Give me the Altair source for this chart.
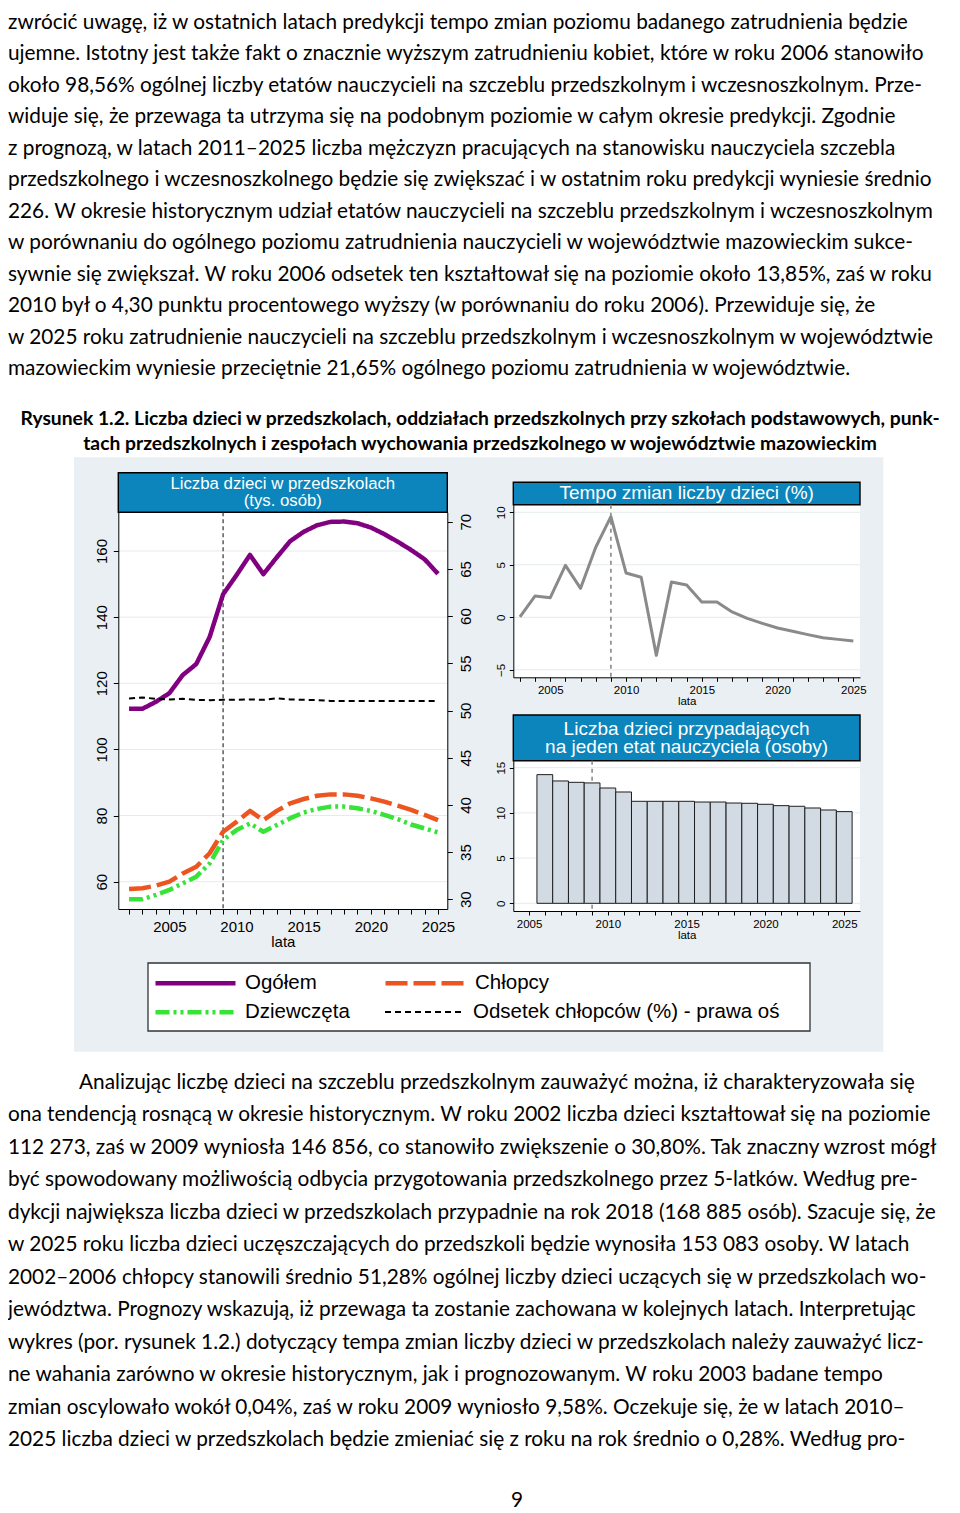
import altair as alt
import pandas as pd

# ---------------------------------------------------------------- data
years = list(range(2002, 2026))
ogolem = [112.3, 112.3, 114.4, 117.0, 122.5, 125.8, 134.0, 146.9, 152.7, 158.8, 153.0, 158.1,
          163.0, 165.8, 167.8, 168.8, 168.9, 168.4, 167.1, 165.1, 162.8, 160.3, 157.5, 153.1]
chlopcy = [57.8, 58.0, 58.8, 60.0, 62.5, 64.5, 68.6, 75.1, 78.1, 81.4, 78.6, 81.4,
           83.7, 85.0, 86.0, 86.4, 86.4, 86.0, 85.2, 84.2, 83.0, 81.7, 80.2, 78.6]
dziewczeta = [54.7, 54.7, 56.0, 57.5, 59.5, 61.5, 65.5, 72.6, 75.6, 77.6, 75.1, 77.1,
              79.2, 80.9, 82.0, 82.7, 82.7, 82.2, 81.4, 80.2, 78.9, 77.3, 76.1, 74.9]
odsetek = [51.27, 51.38, 51.24, 51.17, 51.24, 51.13, 51.10, 51.13, 51.13, 51.17, 51.13, 51.30,
           51.17, 51.13, 51.10, 51.02, 51.02, 51.02, 51.02, 51.02, 51.02, 51.02, 51.02, 51.02]

tempo_years = list(range(2003, 2026))
tempo = [0.04, 2.03, 1.87, 4.95, 2.76, 6.67, 9.58, 4.22, 3.81, -3.62, 3.37, 3.08,
         1.46, 1.46, 0.51, -0.10, -0.57, -1.02, -1.33, -1.65, -1.94, -2.10, -2.25]

ratio_years = list(range(2006, 2026))
ratio = [14.23, 13.53, 13.38, 13.31, 12.75, 12.31, 11.28, 11.28, 11.28, 11.28,
         11.20, 11.20, 11.09, 11.06, 10.95, 10.80, 10.73, 10.54, 10.32, 10.14]

forecast_start = 2009

series_names = ["Ogółem", "Chłopcy", "Dziewczęta", "Odsetek chłopców (%) - prawa oś"]

ticks_p1_left = [60, 80, 100, 120, 140, 160]
ticks_p1_right = [30, 35, 40, 45, 50, 55, 60, 65, 70]
ticks_tempo = [-5, 0, 5, 10]
ticks_ratio = [0, 5, 10, 15]

title_p1 = ["Liczba dzieci w przedszkolach", "(tys. osób)"]
title_p2 = ["Tempo zmian liczby dzieci (%)"]
title_p3 = ["Liczba dzieci przypadających", "na jeden etat nauczyciela (osoby)"]
axis_title = "lata"

text_top = [
    "zwrócić uwagę, iż w ostatnich latach predykcji tempo zmian poziomu badanego zatrudnienia będzie",
    "ujemne. Istotny jest także fakt o znacznie wyższym zatrudnieniu kobiet, które w roku 2006 stanowiło",
    "około 98,56% ogólnej liczby etatów nauczycieli na szczeblu przedszkolnym i wczesnoszkolnym. Prze-",
    "widuje się, że przewaga ta utrzyma się na podobnym poziomie w całym okresie predykcji. Zgodnie",
    "z prognozą, w latach 2011–2025 liczba mężczyzn pracujących na stanowisku nauczyciela szczebla",
    "przedszkolnego i wczesnoszkolnego będzie się zwiększać i w ostatnim roku predykcji wyniesie średnio",
    "226. W okresie historycznym udział etatów nauczycieli na szczeblu przedszkolnym i wczesnoszkolnym",
    "w porównaniu do ogólnego poziomu zatrudnienia nauczycieli w województwie mazowieckim sukce-",
    "sywnie się zwiększał. W roku 2006 odsetek ten kształtował się na poziomie około 13,85%, zaś w roku",
    "2010 był o 4,30 punktu procentowego wyższy (w porównaniu do roku 2006). Przewiduje się, że",
    "w 2025 roku zatrudnienie nauczycieli na szczeblu przedszkolnym i wczesnoszkolnym w województwie",
    "mazowieckim wyniesie przeciętnie 21,65% ogólnego poziomu zatrudnienia w województwie.",
]
caption = [
    "Rysunek 1.2. Liczba dzieci w przedszkolach, oddziałach przedszkolnych przy szkołach podstawowych, punk-",
    "tach przedszkolnych i zespołach wychowania przedszkolnego w województwie mazowieckim",
]
text_bottom = [
    "Analizując liczbę dzieci na szczeblu przedszkolnym zauważyć można, iż charakteryzowała się",
    "ona tendencją rosnącą w okresie historycznym. W roku 2002 liczba dzieci kształtował się na poziomie",
    "112 273, zaś w 2009 wyniosła 146 856, co stanowiło zwiększenie o 30,80%. Tak znaczny wzrost mógł",
    "być spowodowany możliwością odbycia przygotowania przedszkolnego przez 5-latków. Według pre-",
    "dykcji największa liczba dzieci w przedszkolach przypadnie na rok 2018 (168 885 osób). Szacuje się, że",
    "w 2025 roku liczba dzieci uczęszczających do przedszkoli będzie wynosiła 153 083 osoby. W latach",
    "2002–2006 chłopcy stanowili średnio 51,28% ogólnej liczby dzieci uczących się w przedszkolach wo-",
    "jewództwa. Prognozy wskazują, iż przewaga ta zostanie zachowana w kolejnych latach. Interpretując",
    "wykres (por. rysunek 1.2.) dotyczący tempa zmian liczby dzieci w przedszkolach należy zauważyć licz-",
    "ne wahania zarówno w okresie historycznym, jak i prognozowanym. W roku 2003 badane tempo",
    "zmian oscylowało wokół 0,04%, zaś w roku 2009 wyniosło 9,58%. Oczekuje się, że w latach 2010–",
    "2025 liczba dzieci w przedszkolach będzie zmieniać się z roku na rok średnio o 0,28%. Według pro-",
]
page_number = ["9"]

# ---------------------------------------------------------------- styles / layout
W, H = 944, 1505
MARGIN = 8


def px(v):
    """page pixel -> chart pixel (the page has an 8px body margin)"""
    return v - MARGIN


BODY_FONT = "Lato"
AX_FONT = "Liberation Sans"
BODY_SIZE = 20.8
FIG_BG = "#e9eff2"
TITLE_BLUE = "#0b85bb"
GRID = "#e4ebee"
BAR_FILL = "#d2dbe3"

series_colors = ["#800080", "#ec5520", "#36e336", "#000000"]
series_dash = [[1, 0], [22, 6], [14, 4, 3, 4, 3, 4], [6, 4]]
series_width = [4.5, 4.5, 4.5, 2]
# legend entry anchors (page px): start of the sample line, centre of the row
legend_pos = [(153, 983), (383, 983), (153, 1012), (384, 1012)]

# panel geometry (page pixels)
P1 = dict(x0=118.3, x1=447.3, y0=512.3, y1=909, bar0=472.7)
P2 = dict(x0=513.3, x1=860, y0=504.7, y1=677.3, bar0=482.3)
P3 = dict(x0=513.3, x1=860, y0=760.7, y1=911, bar0=715)

X1 = alt.Scale(domain=[2001.2, 2025.69], range=[px(P1["x0"]), px(P1["x1"])], nice=False, zero=False)
Y1L = alt.Scale(domain=[51.74, 171.7], range=[px(P1["y1"]), px(P1["y0"])], nice=False, zero=False)
Y1R = alt.Scale(domain=[28.97, 71.0], range=[px(P1["y1"]), px(P1["y0"])], nice=False, zero=False)
X2 = alt.Scale(domain=[2002.56, 2025.44], range=[px(P2["x0"]), px(P2["x1"])], nice=False, zero=False)
Y2 = alt.Scale(domain=[-5.71, 10.72], range=[px(P2["y1"]), px(P2["y0"])], nice=False, zero=False)
X3 = alt.Scale(domain=[2004, 2026], range=[px(P3["x0"]), px(P3["x1"])], nice=False, zero=False)
Y3 = alt.Scale(domain=[-0.85, 15.77], range=[px(P3["y1"]), px(P3["y0"])], nice=False, zero=False)

FIVE = "datum.value % 5 == 0 ? datum.value : ''"


def x_axis(bottom, values, size, tick, pad):
    return alt.Axis(orient="bottom", offset=px(bottom) - H, values=values, labelExpr=FIVE,
                    labelFontSize=size, labelFont=AX_FONT, labelColor="black", labelAngle=0,
                    labelOverlap=False, labelFlush=False, tickSize=tick, labelPadding=pad,
                    title=axis_title, titleFont=AX_FONT, titleFontSize=size,
                    titleFontWeight="normal", titleColor="black", titlePadding=0,
                    grid=False, domainColor="black", tickColor="black", zindex=1)


def y_axis(orient, xpos, values, size, tick, pad):
    off = -px(xpos) if orient == "left" else px(xpos) - W
    return alt.Axis(orient=orient, offset=off, values=values, labelAngle=270,
                    labelAlign="center", labelBaseline="bottom" if orient == "left" else "top",
                    labelFontSize=size, labelFont=AX_FONT, labelColor="black",
                    labelOverlap=False, labelFlush=False, tickSize=tick, labelPadding=pad,
                    title=None, grid=False, domainColor="black", tickColor="black", zindex=1)


ONE = alt.Data(values=[{}])


def deco_rect(x0, x1, y0, y1, fill, stroke=None, sw=1.0):
    kw = dict(fill=fill)
    if stroke:
        kw.update(stroke=stroke, strokeWidth=sw)
    return alt.Chart(ONE).mark_rect(**kw).encode(
        x=alt.value(px(x0)), x2=alt.value(px(x1)), y=alt.value(px(y0)), y2=alt.value(px(y1)))


def title_text(lines, cx, first_y, size, lh):
    return alt.Chart(pd.DataFrame({"t": ["\n".join(lines)]})).mark_text(
        align="center", baseline="middle", color="white", font=AX_FONT, fontSize=size,
        lineBreak="\n", lineHeight=lh).encode(text="t:N", x=alt.value(px(cx)), y=alt.value(px(first_y)))


def grid(values, scale, x0, x1):
    return alt.Chart(pd.DataFrame({"v": values})).mark_rule(color=GRID, strokeWidth=1).encode(
        y=alt.Y("v:Q", scale=scale, axis=None), x=alt.value(px(x0)), x2=alt.value(px(x1)))


def forecast_rule(xscale, y0, y1, color, dash, width):
    return alt.Chart(pd.DataFrame({"rok": [forecast_start]})).mark_rule(
        color=color, strokeDash=dash, strokeWidth=width).encode(
        x=alt.X("rok:Q", scale=xscale, axis=None), y=alt.value(px(y0)), y2=alt.value(px(y1)))


def text_block(lines, first_y, last_y, x, size, weight="normal", align="left", rows=None):
    df = pd.DataFrame({"row": list(range(len(lines))), "line": lines})
    if rows is not None:
        df = df[df["row"].isin(rows)]
    n = max(len(lines) - 1, 1)
    return alt.Chart(df).mark_text(align=align, baseline="middle", font=BODY_FONT, fontSize=size,
                                   fontWeight=weight, color="black").encode(
        text="line:N", x=alt.value(px(x)),
        y=alt.Y("row:Q", scale=alt.Scale(domain=[0, n], range=[px(first_y), px(last_y)],
                                         nice=False, zero=False), axis=None))


def series_layer(i, values, yscale, xaxis=None, yaxis=None):
    name, color, dash, width = series_names[i], series_colors[i], series_dash[i], series_width[i]
    lx, ly = legend_pos[i]
    box = 80 + width
    leg = alt.Legend(orient="none", legendX=px(lx), legendY=px(ly) - box / 2, title=None,
                     symbolType="stroke", symbolSize=6400, symbolStrokeWidth=width,
                     labelFontSize=20.5, labelFont=AX_FONT, labelColor="black",
                     labelOffset=7, labelLimit=500, padding=0)
    df = pd.DataFrame({"rok": years, "wartosc": values, "seria": name})
    return alt.Chart(df).mark_line(strokeWidth=width, strokeCap="butt", strokeJoin="round").encode(
        x=alt.X("rok:Q", scale=X1, axis=xaxis),
        y=alt.Y("wartosc:Q", scale=yscale, axis=yaxis),
        color=alt.Color("seria:N", scale=alt.Scale(domain=[name], range=[color]), legend=leg),
        strokeDash=alt.StrokeDash("seria:N", scale=alt.Scale(domain=[name], range=[dash]), legend=leg))


df_tempo = pd.DataFrame({"rok": tempo_years, "tempo": tempo})
df_ratio = pd.DataFrame({"rok": ratio_years, "osoby": ratio})

# ---------------------------------------------------------------- layers
layers = []
# figure background, legend box, plot areas, title bars
layers.append(deco_rect(74, 883.3, 457.3, 1051.7, FIG_BG))
layers.append(deco_rect(148, 810, 963, 1031, "white", "#333333", 1.3))
for P in (P1, P2, P3):
    layers.append(deco_rect(P["x0"], P["x1"], P["y0"], P["y1"], "white"))
    layers.append(deco_rect(P["x0"], P["x1"], P["bar0"], P["y0"], TITLE_BLUE, "black", 1.4))
layers.append(title_text(title_p1, (P1["x0"] + P1["x1"]) / 2, 484, 16.8, 16.7))
layers.append(title_text(title_p2, (P2["x0"] + P2["x1"]) / 2, 493.3, 19, 19))
layers.append(title_text(title_p3, (P3["x0"] + P3["x1"]) / 2, 729, 19, 18.3))

# grids
layers.append(grid(ticks_p1_left, Y1L, P1["x0"], P1["x1"]))
layers.append(grid(ticks_tempo, Y2, P2["x0"], P2["x1"]))
layers.append(grid(ticks_ratio, Y3, P3["x0"], P3["x1"]))

# forecast-start markers
layers.append(forecast_rule(X1, P1["y0"], P1["y1"], "#333333", [4, 3], 1.2))
layers.append(forecast_rule(X2, P2["y0"], P2["y1"], "#8a8a8a", [4, 4], 1.6))
layers.append(forecast_rule(X3, P3["y0"], P3["y1"], "#8a8a8a", [4, 4], 1.6))

# panel 1: counts (left axis) and share of boys (right axis)
layers.append(series_layer(0, ogolem, Y1L, xaxis=x_axis(P1["y1"], years, 15, 5, 5),
                           yaxis=y_axis("left", P1["x0"], ticks_p1_left, 15, 5, 4)))
layers.append(series_layer(1, chlopcy, Y1L))
layers.append(series_layer(2, dziewczeta, Y1L))
layers.append(series_layer(3, odsetek, Y1R, yaxis=y_axis("right", P1["x1"], ticks_p1_right, 15, 5, 6)))

# panel 2: growth rate
layers.append(alt.Chart(df_tempo).mark_line(color="#8a8a8a", strokeWidth=3, strokeJoin="round").encode(
    x=alt.X("rok:Q", scale=X2, axis=x_axis(P2["y1"], tempo_years, 11.5, 4, 3)),
    y=alt.Y("tempo:Q", scale=Y2, axis=y_axis("left", P2["x0"], ticks_tempo, 11.5, 4, 3))))

# panel 3: children per teacher
layers.append(alt.Chart(df_ratio).transform_calculate(
    x0="datum.rok - 0.5", x1="datum.rok + 0.5", zero="0").mark_rect(
    fill=BAR_FILL, stroke="#1e1e1e", strokeWidth=1).encode(
    x=alt.X("x0:Q", scale=X3, axis=x_axis(P3["y1"], list(range(2005, 2026)), 11.5, 4, 3)),
    x2="x1:Q",
    y=alt.Y("osoby:Q", scale=Y3, axis=y_axis("left", P3["x0"], ticks_ratio, 11.5, 4, 3)),
    y2="zero:Q"))

# page text (the first line is nudged down so it is not clipped by the page margin)
layers.append(text_block(text_top, 23, 369, 8, BODY_SIZE))
layers.append(text_block(caption, 419, 444, 480, 19.3, weight="bold", align="center"))
layers.append(text_block(text_bottom, 1083, 1440, 79, BODY_SIZE, rows=[0]))
layers.append(text_block(text_bottom, 1083, 1440, 8, BODY_SIZE, rows=list(range(1, len(text_bottom)))))
layers.append(text_block(page_number, 1501, 1501, 517, BODY_SIZE, align="center"))

chart = alt.layer(*layers).resolve_scale(
    x="independent", y="independent", color="independent", strokeDash="independent").properties(
    width=W, height=H, padding=0, background="white",
    autosize=alt.AutoSizeParams(type="none")).configure_view(stroke=None)

chart.save("out.html", embed_options={"renderer": "svg", "actions": False})
